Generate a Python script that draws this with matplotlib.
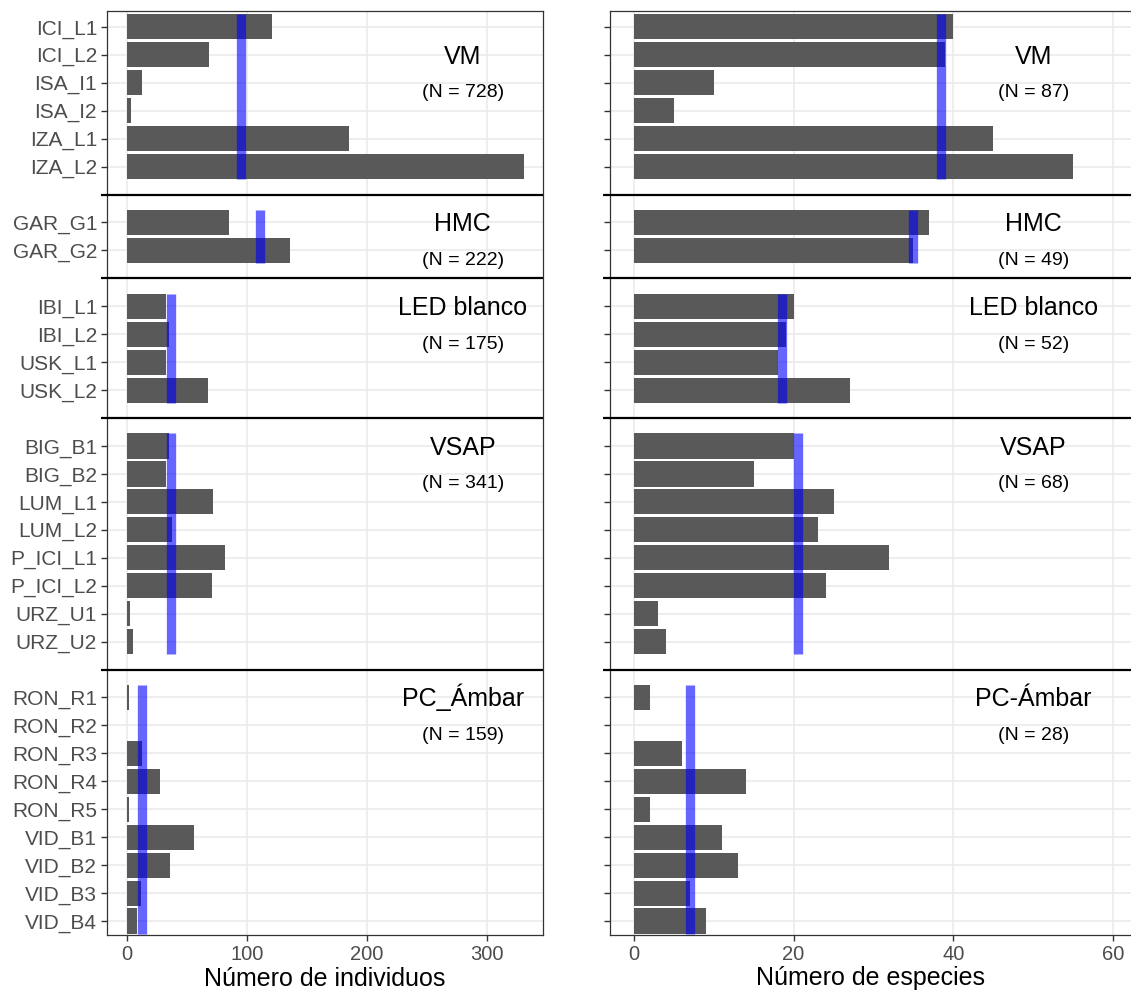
import numpy as np
import matplotlib
matplotlib.use("Agg")
import matplotlib.pyplot as plt
import matplotlib.transforms as mtransforms

plt.rcParams['font.family'] = ['Liberation Sans', 'DejaVu Sans']

# sites per treatment group, top to bottom
sites = [
    ['ICI_L1', 'ICI_L2', 'ISA_I1', 'ISA_I2', 'IZA_L1', 'IZA_L2'],
    ['GAR_G1', 'GAR_G2'],
    ['IBI_L1', 'IBI_L2', 'USK_L1', 'USK_L2'],
    ['BIG_B1', 'BIG_B2', 'LUM_L1', 'LUM_L2', 'P_ICI_L1', 'P_ICI_L2', 'URZ_U1', 'URZ_U2'],
    ['RON_R1', 'RON_R2', 'RON_R3', 'RON_R4', 'RON_R5', 'VID_B1', 'VID_B2', 'VID_B3', 'VID_B4'],
]

individuos = [
    [121, 69, 13, 4, 185, 331],
    [85, 136],
    [33, 35, 33, 68],
    [35, 33, 72, 38, 82, 71, 3, 5],
    [2, 0, 13, 28, 2, 56, 36, 12, 9],
]
especies = [
    [40, 39, 10, 5, 45, 55],
    [37, 35],
    [20, 19, 18, 27],
    [20, 15, 25, 23, 32, 24, 3, 4],
    [2, 0, 6, 14, 2, 11, 13, 7, 9],
]

# blue reference line per group
ref_individuos = [95.5, 111, 36.8, 37.1, 13]
ref_especies = [38.5, 35, 18.5, 20.5, 7]

groups_left = ['VM', 'HMC', 'LED blanco', 'VSAP', 'PC_Ámbar']
groups_right = ['VM', 'HMC', 'LED blanco', 'VSAP', 'PC-Ámbar']
n_left = ['(N = 728)', '(N = 222)', '(N = 175)', '(N = 341)', '(N = 159)']
n_right = ['(N = 87)', '(N = 49)', '(N = 52)', '(N = 68)', '(N = 28)']
# row (within group, 0-based) where the group title sits
title_row = [1, 0, 0, 0, 0]

W, H = 1131, 998
fig = plt.figure(figsize=(W / 100, H / 100), dpi=100)
ax_l = fig.add_axes([106.8 / W, 1 - 935 / H, (542.7 - 106.8) / W, (935 - 10.7) / H])
ax_r = fig.add_axes([610 / W, 1 - 935 / H, (W - 610) / W, (935 - 10.7) / H])


def draw_panel(ax, values, refs, names, ns, xlim, xticks, xlabel, show_labels, label_x):
    pos = 1
    ticks, ticklabels, seps = [], [], []
    for g, (labs, vals) in enumerate(zip(sites, values)):
        y = np.arange(pos, pos + len(labs))
        ax.barh(y, vals, height=0.9, color='#595959', zorder=2)
        ax.plot([refs[g], refs[g]], [y[0] - 0.45, y[-1] + 0.45], color='blue',
                alpha=0.6, lw=6.7, solid_capstyle='butt', zorder=3)
        ty = y[title_row[g]]
        ax.text(label_x, ty + 0.32, names[g], ha='center', va='baseline', fontsize=18, zorder=4)
        ax.text(label_x, ty + 1.52, ns[g], ha='center', va='baseline', fontsize=14, zorder=4)
        ticks += list(y)
        ticklabels += labs
        pos += len(labs)
        if g < len(sites) - 1:
            seps.append(pos)
        pos += 1

    trans = mtransforms.blended_transform_factory(ax.transAxes, ax.transData)
    for s in seps:
        ax.plot([-0.014, 1], [s, s], transform=trans, color='black', lw=1.6,
                clip_on=False, zorder=5, solid_capstyle='butt')

    ax.set_ylim(33.5, 0.42)
    ax.set_xlim(*xlim)
    ax.set_yticks(ticks)
    ax.set_yticklabels(ticklabels if show_labels else [])
    ax.set_xticks(xticks)
    ax.grid(True, color='#ebebeb', lw=1.2, zorder=0)
    ax.set_axisbelow(True)
    ax.tick_params(length=4.5, width=1.0, color='#333333', labelcolor='#4d4d4d', pad=2.5)
    ax.tick_params(axis='y', labelsize=15)
    ax.tick_params(axis='x', labelsize=14.5)
    for sp in ax.spines.values():
        sp.set_color('#333333')
        sp.set_linewidth(0.9)
    ax.set_xlabel(xlabel, fontsize=18, labelpad=2)


draw_panel(ax_l, individuos, ref_individuos, groups_left, n_left,
           (-16.5, 346.5), [0, 100, 200, 300], 'Número de individuos', True, 280)
draw_panel(ax_r, especies, ref_especies, groups_right, n_right,
           (-2.95, 62.2), [0, 20, 40, 60], 'Número de especies', False, 50)
ax_r.spines['right'].set_visible(False)

fig.savefig('out.png', dpi=100)
